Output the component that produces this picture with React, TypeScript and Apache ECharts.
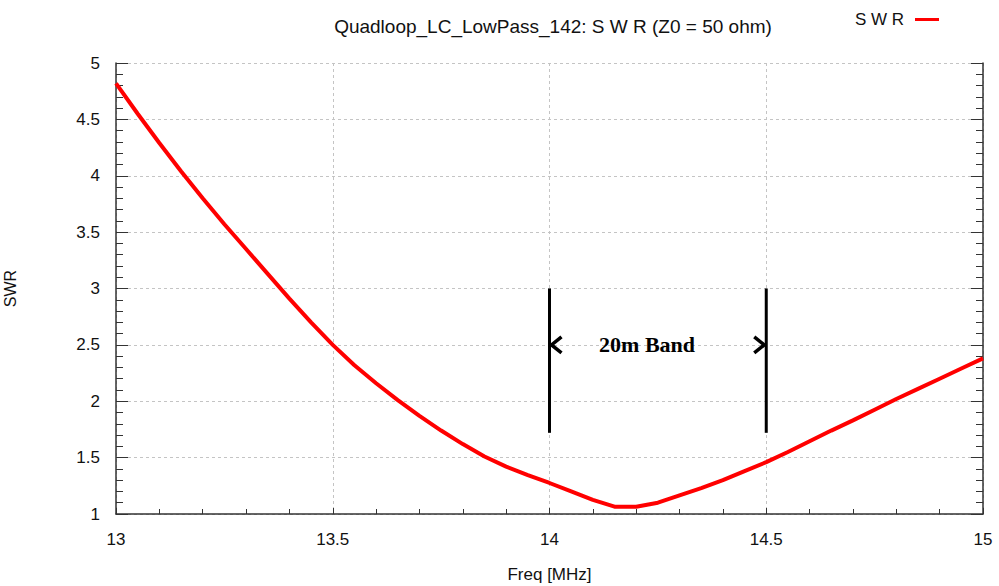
import React, { useEffect, useRef } from "react";
import * as echarts from "echarts";

// Frequency sweep (MHz) and the matching SWR readings
const freqMHz = [
  13.0, 13.05, 13.1, 13.15, 13.2, 13.25, 13.3, 13.35, 13.4, 13.45,
  13.5, 13.55, 13.6, 13.65, 13.7, 13.75, 13.8, 13.85, 13.9, 13.95,
  14.0, 14.05, 14.1, 14.15, 14.2, 14.25, 14.3, 14.35, 14.4, 14.45,
  14.5, 14.55, 14.6, 14.65, 14.7, 14.75, 14.8, 14.85, 14.9, 14.95, 15.0,
];
const swr = [
  4.82, 4.55, 4.29, 4.04, 3.8, 3.57, 3.35, 3.13, 2.91, 2.7,
  2.5, 2.32, 2.16, 2.01, 1.87, 1.74, 1.62, 1.51, 1.42, 1.345,
  1.275, 1.2, 1.125, 1.065, 1.065, 1.1, 1.165, 1.23, 1.3, 1.38,
  1.46, 1.55, 1.645, 1.74, 1.83, 1.925, 2.02, 2.11, 2.2, 2.29, 2.38,
];

// 20 m amateur band markers
const bandEdges = [14.0, 14.5];
const bandMarkerTop = 3.0;
const bandMarkerBottom = 1.72;
const bandArrowLevel = 2.5;
const bandLabel = "20m Band";
const bandLabelFreq = 14.225;

const titleText = "Quadloop_LC_LowPass_142: S W R (Z0 = 50 ohm)";
const seriesName = "S W R";

const SANS = "'Liberation Sans', Arial, sans-serif";

export default function App() {
  const ref = useRef<HTMLDivElement>(null);

  useEffect(() => {
    if (!ref.current) return;
    const chart = echarts.init(ref.current, undefined, { renderer: "svg" });

    const gridSplit = {
      show: true,
      lineStyle: { color: "#c4c4c4", type: [3, 3] as number[], width: 1 },
    };

    chart.setOption({
      animation: false,
      backgroundColor: "#ffffff",
      title: {
        text: titleText,
        left: 548,
        top: 12,
        textAlign: "center",
        textStyle: { fontFamily: SANS, fontSize: 19, fontWeight: "normal", color: "#111" },
      },
      legend: {
        right: 55,
        top: 6,
        align: "right",
        icon: "rect",
        itemWidth: 24,
        itemHeight: 3,
        data: [seriesName],
        textStyle: { fontFamily: SANS, fontSize: 17, color: "#111", padding: [0, 6, 0, 0] },
      },
      grid: {
        left: 116,
        right: 16,
        top: 63,
        bottom: 72,
        containLabel: false,
        outerBoundsMode: "none",
      },
      xAxis: [
        {
          type: "value",
          min: 13,
          max: 15,
          interval: 0.5,
          name: "Freq [MHz]",
          nameLocation: "middle",
          nameGap: 52,
          nameTextStyle: { fontFamily: SANS, fontSize: 17, color: "#111" },
          axisLine: { show: true, onZero: false, lineStyle: { color: "#333", width: 1.5 } },
          axisTick: { show: true, inside: true, length: 6, lineStyle: { color: "#333" } },
          minorTick: { show: true, splitNumber: 5, length: 5, lineStyle: { color: "#333" } },
          axisLabel: { fontFamily: SANS, fontSize: 17, color: "#111", margin: 17 },
          splitLine: gridSplit,
        },
      ],
      yAxis: [
        {
          type: "value",
          min: 1,
          max: 5,
          interval: 0.5,
          name: "SWR",
          nameLocation: "middle",
          nameRotate: 90,
          nameGap: 98,
          nameTextStyle: { fontFamily: SANS, fontSize: 16, color: "#111" },
          axisLine: { show: true, onZero: false, lineStyle: { color: "#333", width: 1.5 } },
          axisTick: { show: true, inside: true, length: 12, lineStyle: { color: "#333" } },
          minorTick: { show: true, splitNumber: 5, length: 7, lineStyle: { color: "#333" } },
          axisLabel: { fontFamily: SANS, fontSize: 17, color: "#111", margin: 16 },
          splitLine: gridSplit,
        },
        {
          type: "value",
          min: 1,
          max: 5,
          interval: 0.5,
          position: "right",
          axisLine: { show: true, onZero: false, lineStyle: { color: "#333", width: 1.5 } },
          axisTick: { show: true, inside: true, length: 12, lineStyle: { color: "#333" } },
          minorTick: { show: true, splitNumber: 5, length: 7, lineStyle: { color: "#333" } },
          axisLabel: { show: false },
          splitLine: { show: false },
        },
      ],
      series: [
        {
          name: seriesName,
          type: "line",
          data: freqMHz.map((f, i) => [f, swr[i]]),
          showSymbol: false,
          symbol: "none",
          color: "#ff0000",
          lineStyle: { color: "#ff0000", width: 4 },
          z: 5,
        },
      ],
    });

    // Band markers: vertical bars, inward chevrons and the band label
    const px = (f: number, v: number) =>
      chart.convertToPixel({ gridIndex: 0 }, [f, v]) as number[];
    const graphics: any[] = [];
    bandEdges.forEach((f, idx) => {
      const top = px(f, bandMarkerTop);
      const bottom = px(f, bandMarkerBottom);
      graphics.push({
        type: "line",
        shape: { x1: top[0], y1: top[1], x2: bottom[0], y2: bottom[1] },
        style: { stroke: "#000", lineWidth: 3 },
        z: 10,
      });
      const tip = px(f, bandArrowLevel);
      const dir = idx === 0 ? 1 : -1;
      const tipX = tip[0] + dir * 2;
      graphics.push({
        type: "polyline",
        shape: {
          points: [
            [tipX + dir * 10, tip[1] - 8],
            [tipX, tip[1]],
            [tipX + dir * 10, tip[1] + 8],
          ],
        },
        style: { stroke: "#000", lineWidth: 3.5, fill: "none" },
        z: 10,
      });
    });
    const lbl = px(bandLabelFreq, bandArrowLevel);
    graphics.push({
      type: "text",
      x: lbl[0],
      y: lbl[1],
      style: {
        text: bandLabel,
        font: "bold 22px 'Liberation Serif', 'Times New Roman', serif",
        fill: "#000",
        align: "center",
        verticalAlign: "middle",
      },
      z: 10,
    });
    chart.setOption({ graphic: graphics });

    return () => chart.dispose();
  }, []);

  return (
    <div
      ref={ref}
      style={{ position: "fixed", left: 0, top: 0, width: 999, height: 586, background: "#fff" }}
    />
  );
}
